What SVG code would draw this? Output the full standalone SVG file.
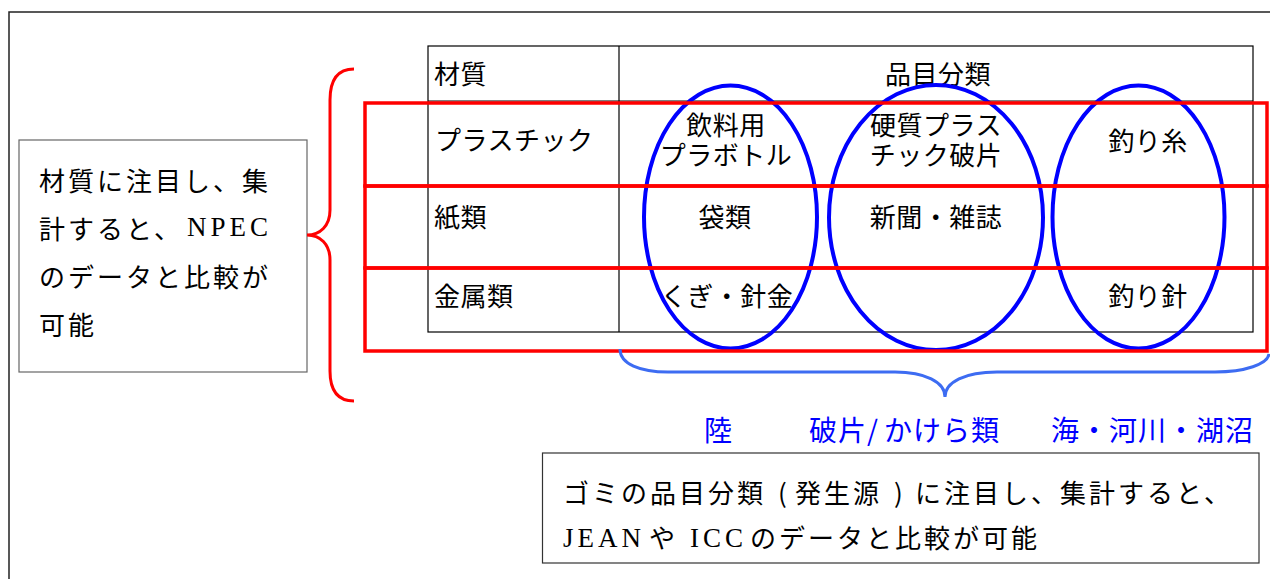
<svg xmlns="http://www.w3.org/2000/svg" width="1270" height="579" viewBox="0 0 1270 579">
<style>
.jp{font-family:"Noto Sans CJK JP","Noto Sans",sans-serif;fill:#000;}
.box{font-size:26px;letter-spacing:3px;}
.tb{font-size:26px;letter-spacing:0.5px;}
.lat{font-family:"Liberation Serif","Times New Roman",serif;font-size:27px;letter-spacing:4px;}
.blue{font-family:"Noto Sans CJK JP","Noto Sans",sans-serif;font-size:28px;letter-spacing:1px;fill:#0000ff;}
.tline{stroke:#000;stroke-width:1.2;fill:none;}
.ell{fill:none;stroke:#0000ff;stroke-width:4;}
.red{fill:none;stroke:#ff0000;stroke-width:3.5;}
</style>
<rect x="9" y="12" width="1300" height="600" fill="none" stroke="#222" stroke-width="1.5"/>

<g id="left-box">
<rect x="19" y="140" width="288" height="232" fill="#fff" stroke="#666" stroke-width="1.2"/>
<text class="jp box" x="39" y="191">材質に注目し、集</text>
<text class="jp box" y="239"><tspan x="39">計すると、</tspan><tspan class="lat" x="187" y="236">NPEC</tspan></text>
<text class="jp box" x="39" y="287">のデータと比較が</text>
<text class="jp box" x="39" y="335">可能</text>
</g>

<g id="table">
<rect class="tline" x="428" y="46" width="825" height="286"/>
<line class="tline" x1="619" y1="46" x2="619" y2="332"/>
<line class="tline" x1="428" y1="101" x2="1253" y2="101"/>
<line class="tline" x1="428" y1="186" x2="1253" y2="186"/>
<line class="tline" x1="428" y1="268" x2="1253" y2="268"/>
<text class="jp tb" x="434" y="84">材質</text>
<text class="jp tb" x="938" y="84" text-anchor="middle">品目分類</text>
<text class="jp tb" x="435" y="150">プラスチック</text>
<text class="jp tb" x="434" y="227">紙類</text>
<text class="jp tb" x="434" y="306">金属類</text>
<text class="jp tb" x="726" y="135" text-anchor="middle">飲料用</text>
<text class="jp tb" x="726" y="165" text-anchor="middle">プラボトル</text>
<text class="jp tb" x="936" y="135" text-anchor="middle">硬質プラス</text>
<text class="jp tb" x="936" y="165" text-anchor="middle">チック破片</text>
<text class="jp tb" x="1148" y="151" text-anchor="middle">釣り糸</text>
<text class="jp tb" x="725" y="227" text-anchor="middle">袋類</text>
<text class="jp tb" x="936" y="227" text-anchor="middle">新聞・雑誌</text>
<text class="jp tb" x="727" y="306" text-anchor="middle">くぎ・針金</text>
<text class="jp tb" x="1148" y="306" text-anchor="middle">釣り針</text>
</g>

<g id="groups-origin">
<ellipse class="ell" cx="730.5" cy="217" rx="86.5" ry="131.5"/>
<ellipse class="ell" cx="936" cy="217.5" rx="107" ry="132.5"/>
<ellipse class="ell" cx="1138.5" cy="217" rx="86" ry="131.5"/>
</g>

<g id="groups-material">
<rect class="red" x="365" y="103" width="902" height="83"/>
<rect class="red" x="365" y="186" width="902" height="82"/>
<rect class="red" x="365" y="268" width="902" height="83"/>
</g>

<g id="connectors">
<path d="M354,69 C338,69 330,80 330,100 L330,210 C330,226 320,235 307,235 C320,235 330,244 330,260 L330,371 C330,391 338,401 354,401" fill="none" stroke="#ff0000" stroke-width="3"/>
<path d="M620,349 C620,364 640,372 668,372 L895,372 C925,372 945,382 945,397 C945,382 965,372 997,372 L1215,372 C1245,372 1268,364 1269,354" fill="none" stroke="#3d6cf2" stroke-width="3"/>
</g>

<g id="origin-labels">
<text class="blue" y="441"><tspan x="704">陸</tspan><tspan x="809">破片</tspan><tspan x="867">/</tspan><tspan x="884">かけら類</tspan><tspan x="1051">海・河川・湖沼</tspan></text>
</g>

<g id="bottom-box">
<rect x="542.5" y="453" width="716.5" height="110" fill="#fff" stroke="#333" stroke-width="1.2"/>
<text class="jp box" y="503"><tspan x="563">ゴミの品目分類</tspan><tspan x="778">(</tspan><tspan x="795">発生源</tspan><tspan x="894">)</tspan><tspan x="915">に注目し、集計すると、</tspan></text>
<text class="jp box" y="548"><tspan class="lat" x="563" y="547">JEAN</tspan><tspan x="649" y="548">や</tspan><tspan class="lat" x="690" y="547">ICC</tspan><tspan x="750" y="548">のデータと比較が可能</tspan></text>
</g>
</svg>
